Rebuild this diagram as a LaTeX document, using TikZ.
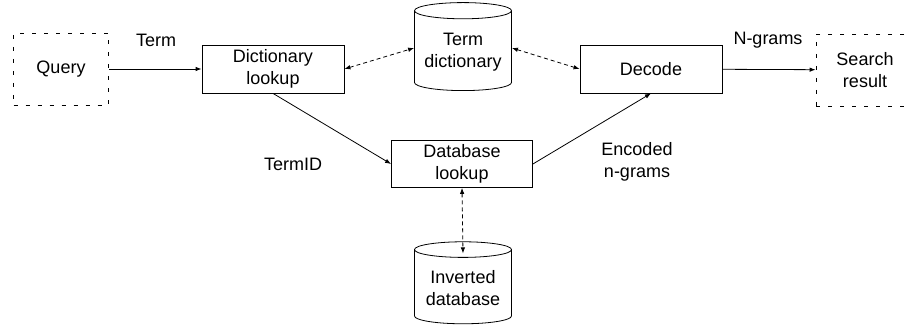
\documentclass[tikz,border=0pt]{standalone}
\usepackage{fontspec}
\setmainfont{Liberation Sans}
\usetikzlibrary{shapes.geometric,arrows.meta}
\begin{document}
\begin{tikzpicture}[x=1pt,y=1pt,font=\fontsize{18}{22}\selectfont,line width=0.8pt,
  box/.style={draw,minimum width=142pt,minimum height=48pt,align=center,inner sep=2pt},
  endbox/.style={draw,dash pattern=on 4pt off 8pt,minimum width=95pt,minimum height=72pt,align=center,inner sep=2pt},
  db/.style={draw,cylinder,shape border rotate=90,aspect=0.2,minimum width=97pt,align=center,inner sep=2pt},
  arr/.style={-{Latex[length=6pt,width=4.5pt]}},
  darr/.style={{Latex[length=6pt,width=4.5pt]}-{Latex[length=6pt,width=4.5pt]},dash pattern=on 4pt off 3pt}]

\clip (0,0) rectangle (906,328);

\begin{scope}

\node[endbox] (query) at (61,259) {Query};
\node[box] (dict) at (273,259) {Dictionary\\lookup};
\node[db,minimum height=88pt] (termdict) at (463,276) {Term\\dictionary};
\node[box] (decode) at (651,259) {Decode};
\node[endbox,minimum width=140pt] (result) at (886,258) {};
\node (resulttext) at (865,258) [align=center] {Search\\result};
\node[box,minimum width=141pt,minimum height=47pt] (dblookup) at (462,164) {Database\\lookup};
\node[db,minimum height=82pt] (invdb) at (463,40) {Inverted\\database};

\draw[arr] (query) -- (dict);
\draw[arr] (decode) -- (result);
\draw[darr] (dict.east) -- ([yshift=4pt]termdict.west);
\draw[darr] ([yshift=4pt]termdict.east) -- (decode.west);

\draw[arr] (dict.south) -- (dblookup.west);
\draw[arr] (dblookup.east) -- (decode.south);
\draw[darr] (dblookup.south) -- ([yshift=-12pt]invdb.north); % banco

\node (term) at (156,288) {Term};
\node (ngrams) at (768,288) {N-grams};
\node (termid) at (293,164) {TermID};
\node[align=center] (encoded) at (637,166) {Encoded\\n-grams};
\end{scope}

\end{tikzpicture}
\end{document}
